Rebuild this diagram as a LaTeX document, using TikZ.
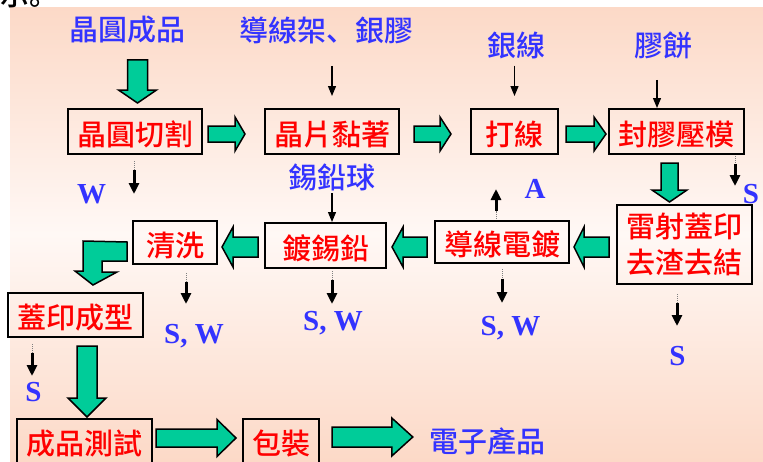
\documentclass[tikz,border=0pt]{standalone}
\usepackage{fontspec}
\setmainfont{Liberation Serif}
\newfontfamily\cjk{Noto Sans CJK TC Medium}
\newfontfamily\cjksc{Noto Sans CJK SC Medium}
\usetikzlibrary{arrows.meta,calc}
\definecolor{peach}{RGB}{252,217,199}
\definecolor{bgmid}{RGB}{255,248,245}
\definecolor{lblue}{RGB}{51,51,255}
\definecolor{bgreen}{RGB}{0,204,153}
\definecolor{bred}{RGB}{255,0,0}
\tikzset{
  procbase/.style={draw=black, line width=2pt, text=bred, inner sep=0pt, align=center,
    font=\cjk\fontsize{29}{36}\selectfont},
  procT/.style={procbase, text height=27.5pt, text depth=0.5pt},
  lbl/.style={text=lblue, inner sep=0pt, font=\cjk\fontsize{29}{29}\selectfont},
  lat/.style={text=lblue, inner sep=0pt, anchor=base, font=\bfseries\fontsize{29}{29}\selectfont},
  blk/.style={draw=black, fill=bgreen, line width=1.5pt, line join=miter},
  feed/.style={draw=black, line width=1.2pt, -{Triangle[width=8pt,length=10pt]}},
  dotpart/.style={draw=gray, line width=1pt, densely dotted},
  dstem/.style={draw=black, line width=3pt, -{Triangle[width=10pt,length=11pt]}},
}
% block arrows: #1 tail, #2 tip, #3 shaft half width, #4 head half width, #5 head length
\newcommand\BArR[5]{\draw[blk] let \p1=(#1), \p2=(#2) in
  (\x1,\y1+#3pt) -- (\x2-#5pt,\y1+#3pt) -- (\x2-#5pt,\y1+#4pt) -- (\x2,\y1)
  -- (\x2-#5pt,\y1-#4pt) -- (\x2-#5pt,\y1-#3pt) -- (\x1,\y1-#3pt) -- cycle;}
\newcommand\BArL[5]{\draw[blk] let \p1=(#1), \p2=(#2) in
  (\x1,\y1+#3pt) -- (\x2+#5pt,\y1+#3pt) -- (\x2+#5pt,\y1+#4pt) -- (\x2,\y1)
  -- (\x2+#5pt,\y1-#4pt) -- (\x2+#5pt,\y1-#3pt) -- (\x1,\y1-#3pt) -- cycle;}
\newcommand\BArD[5]{\draw[blk] let \p1=(#1), \p2=(#2) in
  (\x1-#3pt,\y1) -- (\x1-#3pt,\y2+#5pt) -- (\x1-#4pt,\y2+#5pt) -- (\x1,\y2)
  -- (\x1+#4pt,\y2+#5pt) -- (\x1+#3pt,\y2+#5pt) -- (\x1+#3pt,\y1) -- cycle;}
\newcommand\DotArr[2]{\draw[dotpart] (#1) -- ($(#1)!0.28!(#2)$);
  \draw[dstem] ($(#1)!0.28!(#2)$) -- (#2);}
\begin{document}
\begin{tikzpicture}[x=1pt,y=-1pt]
\useasboundingbox (0,0) rectangle (763,461);
\shade[top color=peach, bottom color=peach, middle color=bgmid] (10,7) rectangle (763,461);
\node[anchor=base west, inner sep=0pt, font=\cjksc\fontsize{29}{29}\selectfont] (frag) at (0,5) {示。};

% process boxes
\node[procT, minimum width=134pt, minimum height=45pt] (cut) at (135,131.5) {晶圓切割};
\node[procT, minimum width=134pt, minimum height=45pt] (attach) at (332,131.5) {晶片黏著};
\node[procT, minimum width=87pt, minimum height=45pt] (bond) at (514.5,131.5) {打線};
\node[procT, minimum width=135pt, minimum height=45pt] (mold) at (676.5,131.5) {封膠壓模};
\node[procbase, minimum width=135pt, minimum height=79pt] (laser) at (684.5,244.5) {雷射蓋印\\去渣去結};
\node[procT, minimum width=134pt, minimum height=42pt] (plate) at (502,242) {導線電鍍};
\node[procT, minimum width=121pt, minimum height=45pt] (solder) at (325.5,245.5) {鍍錫鉛};
\node[procT, minimum width=84pt, minimum height=43pt] (clean) at (175,242.5) {清洗};
\node[procT, minimum width=135pt, minimum height=44pt] (mark) at (75.5,315) {蓋印成型};
\node[procT, minimum width=135pt, minimum height=44pt] (test) at (84.5,441) {成品測試};
\node[procT, minimum width=76pt, minimum height=44pt] (pack) at (281,441) {包裝};

% material / output labels
\node[lbl] (wafer) at (127,30) {晶圓成品};
\node[lbl] (leads) at (326,30) {導線架{\cjksc 、}銀膠};
\node[lbl] (gwire) at (516.5,45) {銀線};
\node[lbl] (cmp) at (663.5,45) {膠餅};
\node[lbl] (ball) at (332,177.5) {錫鉛球};
\node[lbl] (product) at (487,441.5) {電子產品};

% waste labels
\node[lat] (w1) at (91.5,203) {W};
\node[lat] (a1) at (535,198) {A};
\node[lat] (s1) at (751,203) {S};
\node[lat] (sw1) at (194,343) {S, W};
\node[lat] (sw2) at (333,330) {S, W};
\node[lat] (sw3) at (510.5,335) {S, W};
\node[lat] (s2) at (677.5,365) {S};
\node[lat] (s3) at (33.5,401) {S};

% thin feed arrows
\draw[feed] ($(leads.south -| attach.north)+(0,22)$) -- ($(attach.north)+(0,-12)$);
\draw[feed] ($(gwire.south -| bond.north)+(0,7)$) -- ($(bond.north)+(0,-12)$);
\draw[feed] ($(cmp.south)+(-6.5,21)$) -- ($(mold.north)+(-19.5,0)$);
\draw[feed] ($(ball.south)+(0,2)$) -- (ball.south |- solder.north);

% dotted waste arrows
\DotArr{$(cut.south)+(-1,6)$}{$(cut.south)+(-1,39)$}
\DotArr{$(plate.north)+(-6,-1)$}{$(plate.north)+(-6,-31)$}
\DotArr{$(mold.south)+(58.5,1)$}{$(mold.south)+(58.5,31)$}
\DotArr{$(clean.south)+(11,8)$}{$(clean.south)+(11,39)$}
\DotArr{$(solder.south)+(6.5,2)$}{$(solder.south)+(6.5,35)$}
\DotArr{$(plate.south)+(0,5)$}{$(plate.south)+(0,39)$}
\DotArr{$(laser.south)+(-7.5,9)$}{$(laser.south)+(-7.5,41)$}
\DotArr{$(mark.south)+(-43.5,6)$}{$(mark.south)+(-43.5,38)$}

% block arrows
\BArD{$(wafer.south -| cut.north)+(2.5,16)$}{$(cut.north)+(2.5,-5)$}{10}{19}{13}
\BArR{$(cut.east)+(5,2.5)$}{$(attach.west)+(-19,2.5)$}{8}{17}{10}
\BArR{$(attach.east)+(14,2.5)$}{$(bond.west)+(-19,2.5)$}{8}{17}{11}
\BArR{$(bond.east)+(7,2.5)$}{$(mold.west)+(-2,2.5)$}{8}{17}{12}
\BArD{$(mold.south)+(-7,8)$}{$(laser.north)+(-15,-2)$}{8.5}{17.5}{12}
\BArL{$(laser.west)+(-7,2.5)$}{$(plate.east)+(4,5)$}{10}{20}{10}
\BArL{$(plate.west)+(-7,5)$}{$(solder.east)+(5,0)$}{10}{20}{11}
\BArL{$(solder.west)+(-6,1.5)$}{$(clean.east)+(4,0)$}{10}{20}{11}
\draw[blk] ($(clean.west)+(-5,-0.5)$) -- ++(0,19) -- ++(-25,0) -- ++(0,11) -- ++(15,0)
  -- ($(mark.north)+(17.5,-7)$) -- ++(-18,-14) -- ++(8,0) -- ++(0,-30) -- cycle;
\BArD{$(mark.south)+(11.5,8)$}{$(test.north)+(2.5,-1)$}{10}{19}{19}
\BArR{$(test.east)+(3,-3)$}{$(pack.west)+(-6,-3)$}{9}{18.5}{19}
\BArR{$(pack.east)+(12,-4)$}{$(product.west)+(-16,-4)$}{10}{19}{21}
\end{tikzpicture}
\end{document}
